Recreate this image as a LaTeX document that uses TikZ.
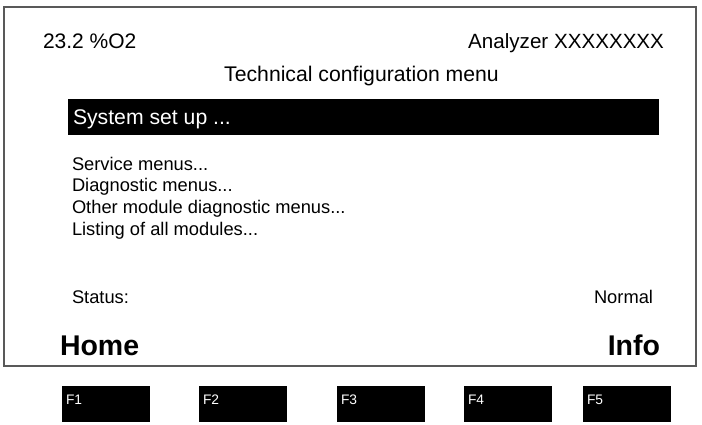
\documentclass[tikz,border=0pt]{standalone}
\usepackage{fontspec}
\setmainfont{Liberation Sans}
\newcommand{\fsz}[1]{\fontsize{#1}{#1}\selectfont}
\begin{document}
\begin{tikzpicture}[x=1pt,y=-1pt,
  txt/.style={inner sep=0pt, outer sep=0pt, text=black},
  item/.style={txt, anchor=base west, font=\fsz{18.3}},
  fkey/.style={fill=black, draw=none, minimum width=88pt, minimum height=36pt, inner sep=0pt, anchor=north west},
  flabel/.style={txt, text=white, anchor=base west, font=\fsz{13.8}},
  softkey/.style={txt, font=\fsz{28.5}\bfseries}]
\useasboundingbox (0,0) rectangle (702,424);
\fill[white] (0,0) rectangle (702,424);
% screen frame
\draw[black!65, line width=1.3pt] (4,7) rectangle (696,366);
% header
\node[txt, anchor=base west, font=\fsz{21}] (o2) at (43,48) {23.2 \%O2};
\node[txt, anchor=base east, font=\fsz{20.6}] (an) at (664,48) {Analyzer XXXXXXXX};
\node[txt, anchor=base, font=\fsz{21.2}] (title) at (361.5,81) {Technical configuration menu};
% selected bar
\fill[black] (68,99) rectangle (659,135);
\node[txt, text=white, anchor=base west, font=\fsz{21.2}] (sel) at (73,124.5) {System set up ...};
% menu items
\node[item] (m1) at (72,170) {Service menus...};
\node[item] (m2) at (72,191.7) {Diagnostic menus...};
\node[item] (m3) at (72,213.4) {Other module diagnostic menus...};
\node[item] (m4) at (72,235.1) {Listing of all modules...};
% status
\node[item] (st) at (72,303.3) {Status:};
\node[txt, anchor=base east, font=\fsz{18.3}] (nm) at (653,303.3) {Normal};
% soft keys
\node[softkey, anchor=base west] (home) at (60,355) {Home};
\node[softkey, anchor=base east] (info) at (660,355) {Info};
% function keys
\node[fkey] (f1) at (62,386) {};
\node[fkey] (f2) at (199,386) {};
\node[fkey] (f3) at (337,386) {};
\node[fkey] (f4) at (464,386) {};
\node[fkey] (f5) at (583,386) {};
\node[flabel] (l1) at ([shift={(4,18)}]f1.north west) {F1};
\node[flabel] (l2) at ([shift={(4,18)}]f2.north west) {F2};
\node[flabel] (l3) at ([shift={(4,18)}]f3.north west) {F3};
\node[flabel] (l4) at ([shift={(4,18)}]f4.north west) {F4};
\node[flabel] (l5) at ([shift={(4,18)}]f5.north west) {F5};
\end{tikzpicture}
\end{document}
